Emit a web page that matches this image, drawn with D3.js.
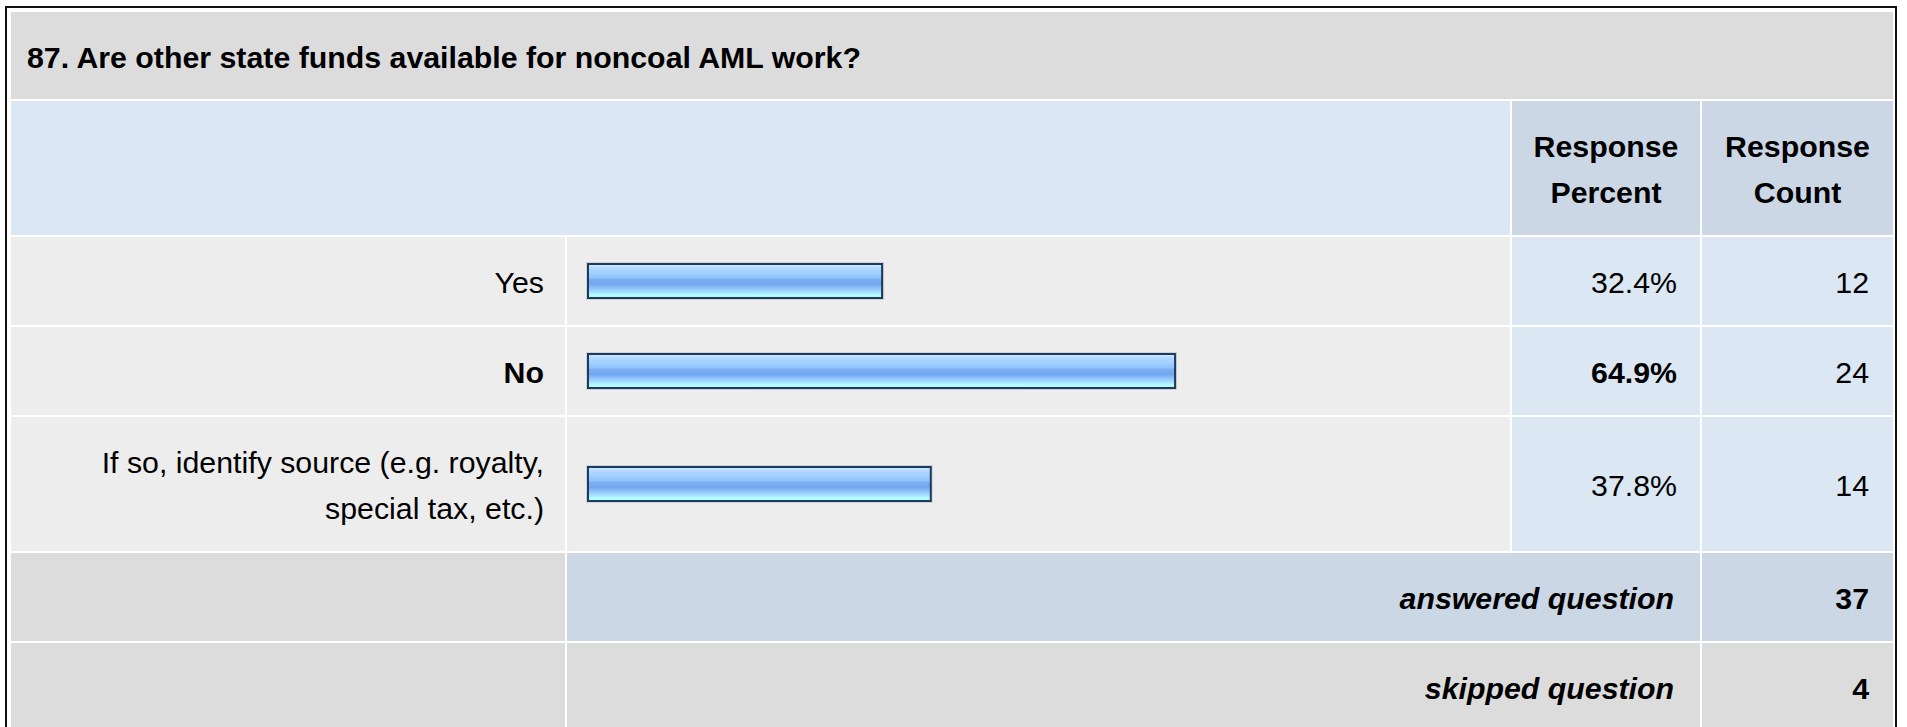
<!DOCTYPE html>
<html>
<head>
<meta charset="utf-8">
<script src="https://cdn.jsdelivr.net/npm/d3@7"></script>
<style>
  html, body { margin: 0; padding: 0; background: #ffffff; }
  svg { display: block; }
  text { font-family: "Liberation Sans", Arial, Helvetica, sans-serif; fill: #000; }
</style>
</head>
<body>
<svg id="chart" width="1907" height="727"></svg>
<script>
// Survey question summary: answer choices, response percents and counts
const title = "87. Are other state funds available for noncoal AML work?";
const categories = ["Yes", "No", "If so, identify source (e.g. royalty, special tax, etc.)"];
const categoryLines = [["Yes"], ["No"], ["If so, identify source (e.g. royalty,", "special tax, etc.)"]];
const percents = [32.4, 64.9, 37.8];
const counts = [12, 24, 14];
const headerPercent = ["Response", "Percent"];
const headerCount = ["Response", "Count"];
const summaryLabels = ["answered question", "skipped question"];
const summaryValues = [37, 4];

const svg = d3.select("#chart");
const FONT = 30.3;
const LINE = 46;
const GAP = 2;

// table columns: label | bar | percent | count
const colX = [11, 567, 1512, 1702];
const colR = [565, 1510, 1700, 1893];

// table rows (title, header, three answers, answered, skipped)
const rowHeights = [87, 134, 88, 88, 134, 88, 88];
const rowY = [];
rowHeights.reduce((y, h) => { rowY.push(y); return y + h + GAP; }, 12);
const rowMid = i => rowY[i] + rowHeights[i] / 2;

const C = {
  grayDark: "#dcdcdc",
  grayLight: "#ededed",
  blueLight: "#dce7f4",
  blueDark: "#cbd7e5"
};

// gradient for the bars
const defs = svg.append("defs");
const grad = defs.append("linearGradient")
  .attr("id", "barFill").attr("x1", 0).attr("y1", 0).attr("x2", 0).attr("y2", 1);
[
  [0, "#d2e9ff"], [0.06, "#c3e2ff"], [0.12, "#b0d8ff"], [0.30, "#9dcdff"],
  [0.40, "#8fc3fc"], [0.46, "#7aaef2"], [0.60, "#72a7ef"], [0.68, "#86bbf7"],
  [0.76, "#99cffd"], [0.84, "#a6e4ff"], [0.90, "#b2fbff"], [1, "#b4ffff"]
].forEach(([o, c]) => grad.append("stop").attr("offset", o).attr("stop-color", c));

// outer frame
svg.append("rect")
  .attr("x", 6).attr("y", 7).attr("width", 1890).attr("height", 760)
  .attr("fill", "#ffffff").attr("stroke", "#111111").attr("stroke-width", 2);

function cell(x0, x1, r, fill) {
  svg.append("rect")
    .attr("x", x0).attr("y", rowY[r])
    .attr("width", x1 - x0).attr("height", rowHeights[r])
    .attr("fill", fill);
}

// title row
cell(colX[0], colR[3], 0, C.grayDark);
svg.append("text")
  .attr("x", 27).attr("y", rowMid(0) + 12)
  .attr("font-size", FONT).attr("font-weight", "bold")
  .text(title);

// header row
cell(colX[0], colR[1], 1, C.blueLight);
cell(colX[2], colR[2], 1, C.blueDark);
cell(colX[3], colR[3], 1, C.blueDark);
[[headerPercent, 2], [headerCount, 3]].forEach(([lines, c]) => {
  const cx = (colX[c] + colR[c]) / 2;
  lines.forEach((t, k) => {
    svg.append("text")
      .attr("x", cx)
      .attr("y", rowMid(1) + (k - (lines.length - 1) / 2) * LINE + 12)
      .attr("text-anchor", "middle")
      .attr("font-size", FONT).attr("font-weight", "bold")
      .text(t);
  });
});

// answer rows
const x = d3.scaleLinear().domain([0, 100]).range([0, 901.5]);
const barLeft = 589;
const barH = 32;
const maxPct = d3.max(percents);

categories.forEach((cat, i) => {
  const r = i + 2;
  const mid = rowMid(r);
  const isTop = percents[i] === maxPct;
  cell(colX[0], colR[0], r, C.grayLight);
  cell(colX[1], colR[1], r, C.grayLight);
  cell(colX[2], colR[2], r, C.blueLight);
  cell(colX[3], colR[3], r, C.blueLight);

  const lines = categoryLines[i];
  lines.forEach((t, k) => {
    svg.append("text")
      .attr("x", 544)
      .attr("y", mid + (k - (lines.length - 1) / 2) * LINE + 12)
      .attr("text-anchor", "end")
      .attr("font-size", FONT)
      .attr("font-weight", isTop ? "bold" : "normal")
      .text(t);
  });

  const w = x(percents[i]);
  // soft halo, dark frame, striped fill
  svg.append("rect")
    .attr("x", barLeft - 3).attr("y", mid - barH / 2 - 3)
    .attr("width", w + 6).attr("height", barH + 6)
    .attr("fill", "#cfd2d6");
  svg.append("rect")
    .attr("x", barLeft - 1).attr("y", mid - barH / 2 - 1)
    .attr("width", w + 2).attr("height", barH + 2)
    .attr("fill", "url(#barFill)")
    .attr("stroke", "#1e3a5f").attr("stroke-width", 2);

  svg.append("text")
    .attr("x", 1677).attr("y", mid + 12)
    .attr("text-anchor", "end")
    .attr("font-size", FONT)
    .attr("font-weight", isTop ? "bold" : "normal")
    .text(percents[i].toFixed(1) + "%");
  svg.append("text")
    .attr("x", 1869).attr("y", mid + 12)
    .attr("text-anchor", "end")
    .attr("font-size", FONT)
    .text(counts[i]);
});

// answered / skipped rows
summaryLabels.forEach((label, j) => {
  const r = j + 5;
  const mid = rowMid(r);
  const fill = j === 0 ? C.blueDark : C.grayDark;
  cell(colX[0], colR[0], r, C.grayDark);
  cell(colX[1], colR[2], r, fill);
  cell(colX[3], colR[3], r, fill);
  svg.append("text")
    .attr("x", 1674).attr("y", mid + 12)
    .attr("text-anchor", "end")
    .attr("font-size", FONT).attr("font-weight", "bold").attr("font-style", "italic")
    .text(label);
  svg.append("text")
    .attr("x", 1869).attr("y", mid + 12)
    .attr("text-anchor", "end")
    .attr("font-size", FONT).attr("font-weight", "bold")
    .text(summaryValues[j]);
});
</script>
</body>
</html>
